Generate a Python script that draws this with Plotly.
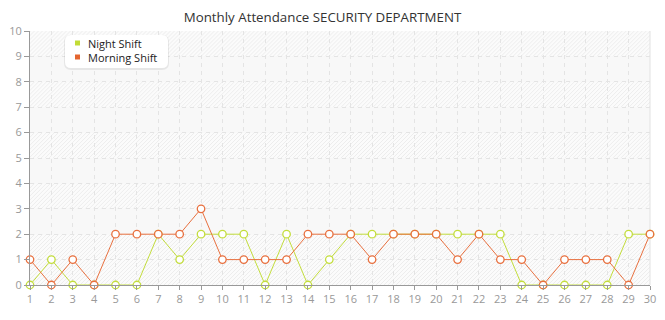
import base64
import plotly.graph_objects as go

days = list(range(1, 31))
night_shift = [0, 1, 0, 0, 0, 0, 2, 1, 2, 2, 2, 0, 2, 0, 1, 2, 2, 2, 2, 2, 2, 2, 2, 0, 0, 0, 0, 0, 2, 2]
morning_shift = [1, 0, 1, 0, 2, 2, 2, 2, 3, 1, 1, 1, 1, 2, 2, 2, 1, 2, 2, 2, 1, 2, 1, 1, 0, 1, 1, 1, 0, 2]
series_names = ["Night Shift", "Morning Shift"]
y_ticks = list(range(0, 11))
hatched_bands = [(0, 2), (3, 4), (5, 6), (7, 8), (9, 10)]

NIGHT = "#c3dd3c"
MORNING = "#e8703f"
LEGEND_COLORS = ["#c2dc36", "#e4652f"]
FONT = "Open Sans, DejaVu Sans, sans-serif"

W, H = 665, 320
ML, MR, MT, MB = 30, 15, 31, 35
PW = W - ML - MR
PH = H - MT - MB


def hatch_svg(w, h):
    lines = []
    step = 4
    for k in range(-int(h) - step, int(w) + int(h) + step, step):
        lines.append(f'<line x1="{k}" y1="{h}" x2="{k + h}" y2="0"/>')
    svg = (f'<svg xmlns="http://www.w3.org/2000/svg" width="{w}" height="{h:.1f}" '
           f'viewBox="0 0 {w} {h:.1f}"><rect width="{w}" height="{h:.1f}" fill="#fbfbfb"/>'
           f'<g stroke="#ededed" stroke-width="1">' + "".join(lines) + '</g></svg>')
    return "data:image/svg+xml;base64," + base64.b64encode(svg.encode()).decode()


images = []
for lo, hi in hatched_bands:
    hp = (hi - lo) / 10 * PH
    images.append(dict(source=hatch_svg(PW, hp), xref="paper", yref="y", x=0, y=hi,
                       sizex=1, sizey=hi - lo, sizing="stretch", layer="below",
                       xanchor="left", yanchor="top"))

fig = go.Figure()
for name, vals, col in [(series_names[0], night_shift, NIGHT), (series_names[1], morning_shift, MORNING)]:
    fig.add_trace(go.Scatter(x=days, y=vals, mode="lines+markers", name=name,
                             line=dict(color=col, width=1),
                             marker=dict(symbol="circle", size=7.5, color="white",
                                         line=dict(color=col, width=1.3)),
                             cliponaxis=False, showlegend=False))


def px_x(px):
    return (px - ML) / PW


def px_y(py):
    return (H - MB - py) / PH


def rounded(x0, y0, x1, y1, r):
    X = px_x
    Y = px_y
    return (f"M{X(x0 + r)},{Y(y0)} L{X(x1 - r)},{Y(y0)} Q{X(x1)},{Y(y0)} {X(x1)},{Y(y0 + r)} "
            f"L{X(x1)},{Y(y1 - r)} Q{X(x1)},{Y(y1)} {X(x1 - r)},{Y(y1)} "
            f"L{X(x0 + r)},{Y(y1)} Q{X(x0)},{Y(y1)} {X(x0)},{Y(y1 - r)} "
            f"L{X(x0)},{Y(y0 + r)} Q{X(x0)},{Y(y0)} {X(x0 + r)},{Y(y0)} Z")


bx0, by0, bx1, by1 = 65, 35, 168, 68
shapes = [
    dict(type="path", xref="paper", yref="paper", layer="above",
         path=rounded(bx0 - 1, by0, bx1 + 1, by1 + 2, 7), line=dict(width=0),
         fillcolor="rgba(0,0,0,0.07)"),
    dict(type="path", xref="paper", yref="paper", layer="above",
         path=rounded(bx0, by0, bx1, by1, 6), line=dict(width=0), fillcolor="white"),
    dict(type="line", xref="paper", yref="paper", x0=1, x1=1, y0=0, y1=1,
         line=dict(color="#e2e2e2", width=1), layer="below"),
]
annotations = []
for i, (name, col) in enumerate(zip(series_names, LEGEND_COLORS)):
    cy = 43 + 14 * i
    shapes.append(dict(type="rect", xref="paper", yref="paper", layer="above",
                       x0=px_x(75), x1=px_x(80), y0=px_y(cy + 2.5), y1=px_y(cy - 2.5),
                       line=dict(width=0), fillcolor=col))
    annotations.append(dict(text=name, xref="paper", yref="paper", x=px_x(86), y=px_y(cy),
                            xanchor="left", yanchor="middle", showarrow=False,
                            font=dict(family=FONT, size=11, color="#222222")))

fig.update_layout(
    width=W, height=H,
    margin=dict(l=ML, r=MR, t=MT, b=MB, autoexpand=False),
    paper_bgcolor="white",
    plot_bgcolor="#f8f8f8",
    font=dict(family=FONT, color="#999999", size=11),
    title=dict(text="Monthly Attendance SECURITY DEPARTMENT", x=322.5 / W, xanchor="center",
               xref="container", y=1 - 17 / H, yanchor="middle", yref="container",
               font=dict(family=FONT, size=13.3, color="#333333")),
    images=images,
    shapes=shapes,
    annotations=annotations,
    showlegend=False,
)
axis_common = dict(showgrid=True, gridcolor="#e4e4e4", griddash="4px,4px", gridwidth=1,
                   showline=True, linecolor="#999999", linewidth=1,
                   ticks="outside", tickcolor="#999999", automargin=False,
                   tickfont=dict(family=FONT, size=11, color="#999999"),
                   zeroline=False, fixedrange=True)
fig.update_xaxes(range=[1, 30], tickmode="array", tickvals=days, ticktext=[str(d) for d in days],
                 ticklen=4, **axis_common)
fig.update_yaxes(range=[0, 10], tickmode="array", tickvals=y_ticks, ticktext=[str(v) for v in y_ticks],
                 ticklen=5, **axis_common)

fig.write_html("out.html")
